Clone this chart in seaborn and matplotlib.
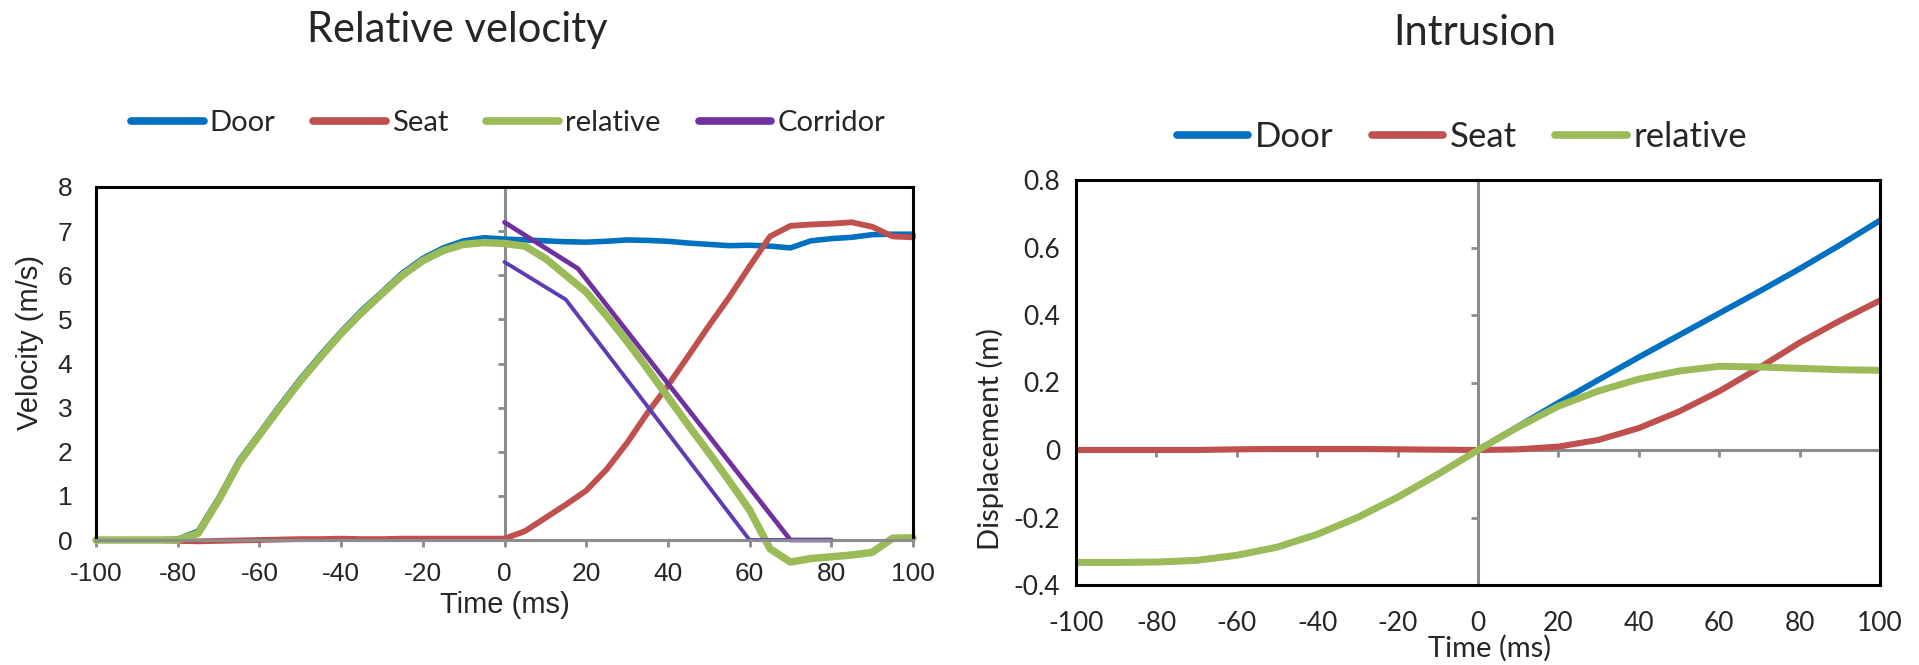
import matplotlib
matplotlib.use('Agg')
import matplotlib.pyplot as plt
import seaborn as sns

# ---- data: relative velocity (m/s) ----
t_vel = list(range(-100, 101, 5))
door_vel = [0, 0, 0, 0, 0.02, 0.2, 0.95, 1.8, 2.42, 3.05, 3.65, 4.2, 4.72, 5.2, 5.62,
            6.05, 6.38, 6.62, 6.78, 6.85, 6.82,
            6.8, 6.78, 6.76, 6.75, 6.77, 6.8, 6.79, 6.77, 6.73, 6.7, 6.67, 6.68, 6.66,
            6.62, 6.78, 6.83, 6.86, 6.92, 6.93, 6.93]
seat_vel = [0, 0, 0, 0, -0.02, -0.03, -0.02, -0.01, 0.0, 0.01, 0.02, 0.02, 0.03, 0.02,
            0.02, 0.03, 0.03, 0.03, 0.03, 0.03, 0.03,
            0.2, 0.5, 0.8, 1.12, 1.6, 2.2, 2.88, 3.5, 4.17, 4.85, 5.5, 6.2, 6.88, 7.12,
            7.15, 7.17, 7.2, 7.1, 6.88, 6.86]
rel_vel = [0, 0, 0, 0, 0, 0.15, 0.9, 1.75, 2.38, 3.0, 3.6, 4.15, 4.68, 5.15, 5.58,
           6.0, 6.33, 6.56, 6.7, 6.74, 6.72,
           6.66, 6.38, 6.0, 5.62, 5.08, 4.5, 3.88, 3.24, 2.6, 1.98, 1.34, 0.68, -0.2,
           -0.5, -0.42, -0.38, -0.34, -0.28, 0.04, 0.05]
corr_hi_t = [0, 18, 70, 80]
corr_hi_v = [7.2, 6.15, 0, 0]
corr_lo_t = [0, 15, 60, 80]
corr_lo_v = [6.3, 5.45, 0, 0]

# ---- data: intrusion displacement (m) ----
t_disp = list(range(-100, 101, 10))
door_disp = [-0.333, -0.333, -0.332, -0.327, -0.312, -0.288, -0.25, -0.2, -0.14, -0.072,
             0.0, 0.07, 0.14, 0.208, 0.275, 0.34, 0.405, 0.47, 0.537, 0.607, 0.68]
seat_disp = [0, 0, 0, 0, 0.002, 0.003, 0.003, 0.003, 0.002, 0.001,
             0.0, 0.002, 0.01, 0.03, 0.065, 0.114, 0.174, 0.244, 0.318, 0.383, 0.443]
rel_disp = [-0.333, -0.333, -0.332, -0.327, -0.312, -0.288, -0.25, -0.2, -0.14, -0.072,
            0.0, 0.068, 0.13, 0.175, 0.21, 0.234, 0.248, 0.246, 0.242, 0.238, 0.236]

BLUE, RED, GREEN, PURPLE, PURPLE2 = '#0070C0', '#C0504D', '#9BBB59', '#7030A0', '#5E3CB8'
GRAY = '#8C8C8C'

sns.set_theme(style='white')
plt.rcParams['axes.unicode_minus'] = False
plt.rcParams['font.family'] = ['Lato', 'DejaVu Sans']

fig = plt.figure(figsize=(19.19, 6.65), dpi=100)
ax1 = fig.add_axes([96 / 1919, 125 / 665, 817 / 1919, 353 / 665])
ax2 = fig.add_axes([1076 / 1919, 80 / 665, 804 / 1919, 405 / 665])

# ---- left: relative velocity ----
kw = dict(ax=ax1, clip_on=False, solid_capstyle='round', solid_joinstyle='round')
sns.lineplot(x=t_vel, y=door_vel, color=BLUE, lw=4.0, label='Door', **kw)
sns.lineplot(x=t_vel, y=seat_vel, color=RED, lw=4.2, label='Seat', **kw)
sns.lineplot(x=t_vel, y=rel_vel, color=GREEN, lw=5.4, label='relative', **kw)
sns.lineplot(x=corr_hi_t, y=corr_hi_v, color=PURPLE, lw=3.4, label='Corridor', **kw)
sns.lineplot(x=corr_lo_t, y=corr_lo_v, color=PURPLE2, lw=2.8, label='_nolegend_', **kw)

ax1.set_xlim(-100, 100)
ax1.set_ylim(0, 8)
ax1.set_xticks(range(-100, 101, 20))
ax1.set_yticks(range(0, 9))
for s in ['left', 'top', 'right']:
    ax1.spines[s].set_color('black')
    ax1.spines[s].set_linewidth(2.2)
ax1.spines['bottom'].set_color(GRAY)
ax1.spines['bottom'].set_linewidth(2.2)
ax1.tick_params(axis='y', length=0, pad=17, labelsize=19)
ax1.tick_params(axis='x', length=5, width=2, color=GRAY, direction='out', pad=11, labelsize=19,
                bottom=True)
for lab in ax1.get_xticklabels() + ax1.get_yticklabels():
    lab.set_fontfamily('Liberation Sans')
ax1.set_xlabel('Time (ms)', fontsize=21, family='Liberation Sans', va='center')
ax1.set_ylabel('Velocity (m/s)', fontsize=21, family='Liberation Sans', va='center')
ax1.xaxis.set_label_coords(0.5, -0.184)
ax1.yaxis.set_label_coords(-0.081, 0.56)

sec1 = ax1.secondary_yaxis(0.5)
sec1.set_alignment('left')
sec1.set_yticks(range(0, 9))
sec1.tick_params(axis='y', direction='out', length=5, width=2, color=GRAY,
                 labelleft=False, labelright=False)
sec1.spines['left'].set_color(GRAY)
sec1.spines['left'].set_linewidth(2.2)

leg1 = ax1.legend(loc='center', bbox_to_anchor=(508 / 1919, 1 - 123 / 665),
                  bbox_transform=fig.transFigure, ncol=4, frameon=False, fontsize=21,
                  handlelength=2.5, handletextpad=0.2, columnspacing=1.3)
for h in leg1.legend_handles:
    h.set_linewidth(5.5)
    h.set_solid_capstyle('round')

# ---- right: intrusion ----
kw = dict(ax=ax2, solid_capstyle='round', solid_joinstyle='round')
sns.lineplot(x=t_disp, y=door_disp, color=BLUE, lw=4.2, label='Door', **kw)
sns.lineplot(x=t_disp, y=seat_disp, color=RED, lw=4.4, label='Seat', **kw)
sns.lineplot(x=t_disp, y=rel_disp, color=GREEN, lw=5.0, label='relative', **kw)

ax2.set_xlim(-100, 100)
ax2.set_ylim(-0.4, 0.8)
ax2.set_xticks(range(-100, 101, 20))
yt = [-0.4, -0.2, 0, 0.2, 0.4, 0.6, 0.8]
ax2.set_yticks(yt)
ax2.set_yticklabels([f'{v:g}' for v in yt])
for s in ax2.spines.values():
    s.set_color('black')
    s.set_linewidth(2.2)
ax2.tick_params(axis='y', length=0, pad=11.5, labelsize=19)
ax2.tick_params(axis='x', length=0, pad=19, labelsize=19)
ax2.set_xlabel('Time (ms)', fontsize=21, va='center')
ax2.set_ylabel('Displacement (m)', fontsize=21, va='center')
ax2.xaxis.set_label_coords(0.515, -0.156)
ax2.yaxis.set_label_coords(-0.107, 0.36)

sec2y = ax2.secondary_yaxis(0.5)
sec2y.set_alignment('left')
sec2y.set_yticks(yt)
sec2y.tick_params(axis='y', direction='out', length=5, width=2, color=GRAY,
                  labelleft=False, labelright=False)
sec2y.spines['left'].set_color(GRAY)
sec2y.spines['left'].set_linewidth(2.2)

sec2x = ax2.secondary_xaxis(0.4 / 1.2)
sec2x.set_xticks(range(-100, 101, 20))
sec2x.tick_params(axis='x', direction='out', length=5, width=2, color=GRAY,
                  labelbottom=False, labeltop=False)
sec2x.spines['bottom'].set_color(GRAY)
sec2x.spines['bottom'].set_linewidth(2.2)

leg2 = ax2.legend(loc='center', bbox_to_anchor=(1462 / 1919, 1 - 137 / 665),
                  bbox_transform=fig.transFigure, ncol=3, frameon=False, fontsize=25,
                  handlelength=2.05, handletextpad=0.2, columnspacing=1.1)
for h in leg2.legend_handles:
    h.set_linewidth(5.5)
    h.set_solid_capstyle('round')

# ---- titles ----
fig.text(457 / 1919, 1 - 42 / 665, 'Relative velocity', ha='center', va='baseline', fontsize=30)
fig.text(1475 / 1919, 1 - 45 / 665, 'Intrusion', ha='center', va='baseline', fontsize=30)

fig.savefig('out.png', dpi=100)
